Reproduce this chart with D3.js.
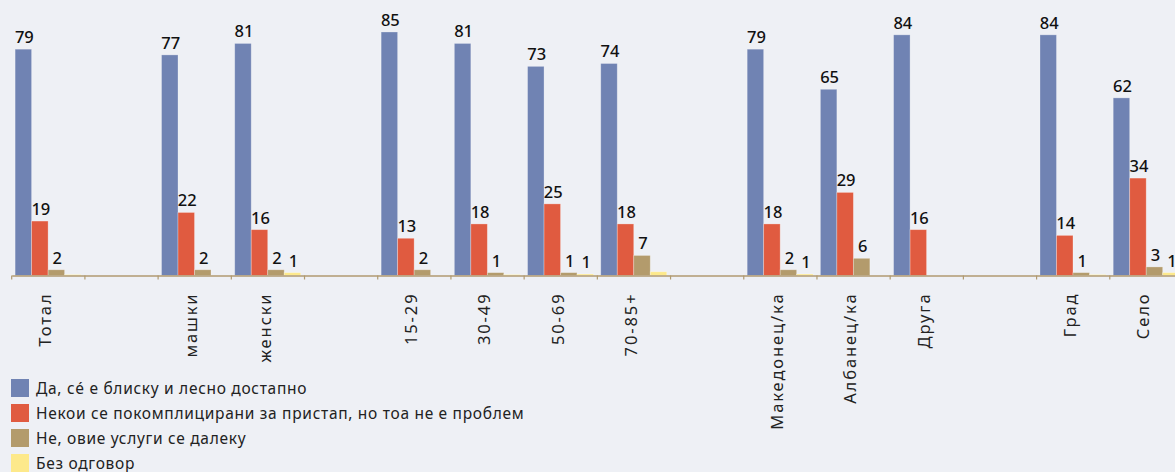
<!DOCTYPE html>
<html>
<head>
<meta charset="utf-8">
<script src="https://cdn.jsdelivr.net/npm/d3@7"></script>
<style>
  html, body { margin: 0; padding: 0; background: #eef0f5; }
  svg { display: block; font-family: "Noto Sans", sans-serif; }
</style>
</head>
<body>
<div id="chart"></div>
<script>
// categories ('' = empty spacer slot between groups)
const categories = ['Тотал', '', 'машки', 'женски', '', '15-29', '30-49', '50-69', '70-85+', '',
                    'Македонец/ка', 'Албанец/ка', 'Друга', '', 'Град', 'Село'];
const seriesNames = ['Да, сé е блиску и лесно достапно',
                     'Некои се покомплицирани за пристап, но тоа не е проблем',
                     'Не, овие услуги се далеку',
                     'Без одговор'];
const yesValues     = [79, null, 77, 81, null, 85, 81, 73, 74, null, 79, 65, 84, null, 84, 62];
const complexValues = [19, null, 22, 16, null, 13, 18, 25, 18, null, 18, 29, 16, null, 14, 34];
const farValues     = [2, null, 2, 2, null, 2, 1, 1, 7, null, 2, 6, 0, null, 1, 3];
const noAnsValues   = [0.3, null, 0, 1, null, 0, 0.3, 0.5, 1.3, null, 0.5, 0, 0, null, 0.3, 1];
// labels printed on the no-answer bars (others are unlabelled in the original)
const noAnsLabels   = [null, null, null, 1, null, null, null, 1, null, null, 1, null, null, null, null, 1];
const colors = ['#7083b3', '#e05b40', '#b39b6c', '#fde98b'];

const width = 1175, height = 472;
const series = [yesValues, complexValues, farValues, noAnsValues];

const svg = d3.select('#chart').append('svg')
    .attr('width', width)
    .attr('height', height);

const x0 = d3.scaleBand()
    .domain(d3.range(categories.length))
    .range([11.7, 1183]);

const x1 = d3.scaleBand()
    .domain(d3.range(series.length))
    .range([3.4, 69.4]);

const y = d3.scaleLinear()
    .domain([0, 100])
    .range([275.5, -11]);

// bars
const groups = svg.append('g').selectAll('g')
    .data(categories)
    .join('g')
    .attr('transform', (d, i) => `translate(${x0(i)},0)`);

const cells = groups.selectAll('g.cell')
    .data((d, i) => series.map((s, k) => ({ k, v: s[i], i })).filter(c => c.v != null))
    .join('g').attr('class', 'cell');

cells.filter(d => d.v > 0).append('rect')
    .attr('x', d => x1(d.k))
    .attr('width', x1.bandwidth())
    .attr('y', d => y(d.v))
    .attr('height', d => y(0) - y(d.v))
    .attr('fill', d => colors[d.k])
    .attr('stroke', 'rgba(255,255,255,0.35)')
    .attr('stroke-width', 0.8);

cells.append('text')
    .attr('x', d => x1(d.k) + x1.bandwidth() / 2 + 1)
    .attr('y', d => y(d.v) - 6)
    .attr('text-anchor', 'middle')
    .attr('font-size', 16.5)
    .attr('font-weight', 500)
    .attr('fill', '#111')
    .text(d => {
        if (d.k === 3) return noAnsLabels[d.i] == null ? '' : noAnsLabels[d.i];
        return d.v >= 0.5 ? Math.round(d.v) : '';
    });

// x axis
const xAxis = d3.axisBottom(x0)
    .tickSize(0)
    .tickFormat('');
const ax = svg.append('g')
    .attr('transform', `translate(0,${y(0)})`)
    .call(xAxis);
ax.select('.domain').attr('stroke', '#b09a70').attr('stroke-width', 1.5);

// tick marks at the band edges
svg.append('g').selectAll('line')
    .data(d3.range(categories.length + 1))
    .join('line')
    .attr('x1', i => i < categories.length ? x0(i) : x0(i - 1) + x0.step())
    .attr('x2', i => i < categories.length ? x0(i) : x0(i - 1) + x0.step())
    .attr('y1', y(0))
    .attr('y2', y(0) + 4)
    .attr('stroke', '#b09a70')
    .attr('stroke-width', 1.2);

// rotated category labels
svg.append('g').selectAll('text')
    .data(categories)
    .join('text')
    .attr('transform', (d, i) => `translate(${x0(i) + x0.bandwidth() / 2 - 3},${y(0) + 17}) rotate(-90)`)
    .attr('text-anchor', 'end')
    .attr('dy', '0.35em')
    .attr('font-size', 16.5)
    .attr('letter-spacing', 1.9)
    .attr('fill', '#222')
    .text(d => d);

// legend
const legend = svg.append('g').attr('transform', 'translate(11,379)');
const li = legend.selectAll('g')
    .data(seriesNames)
    .join('g')
    .attr('transform', (d, i) => `translate(0,${i * 25})`);
li.append('rect')
    .attr('width', 18)
    .attr('height', 18)
    .attr('fill', (d, i) => colors[i]);
li.append('text')
    .attr('x', 25)
    .attr('y', 9.5)
    .attr('dy', '0.35em')
    .attr('font-size', 15.5)
    .attr('letter-spacing', 0.7)
    .attr('fill', '#222')
    .text(d => d);
</script>
</body>
</html>
